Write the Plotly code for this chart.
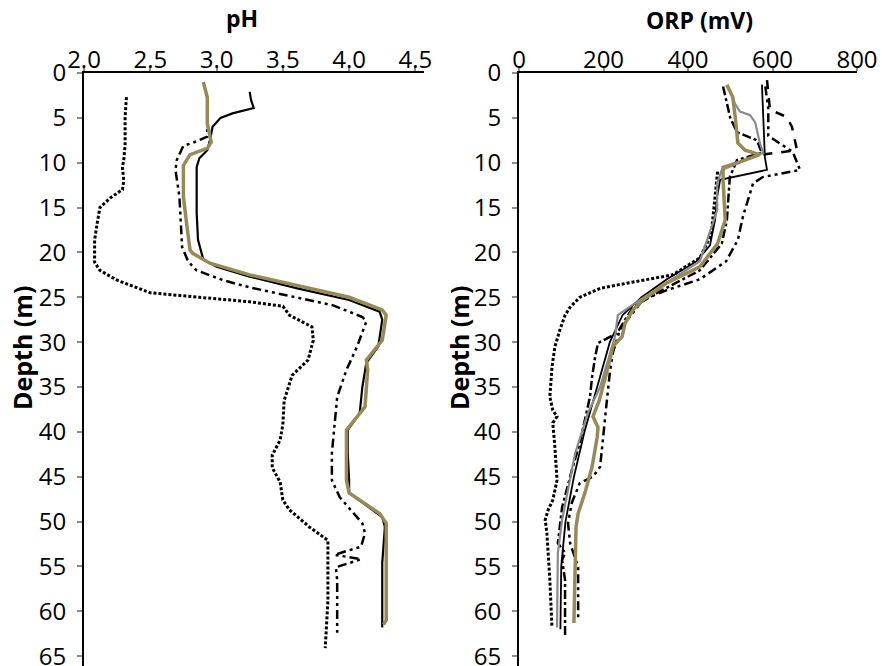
import plotly.graph_objects as go

# ---------------- pH panel data ----------------
ph_dot_depth = [2.7, 5.0, 6.4, 8.0, 9.7, 10.5, 12.0, 13.0, 13.9, 15.0, 16.7, 18.6, 21.1, 22.0, 23.1, 24.5,
                25.0, 25.5, 26.0, 27.0, 28.3, 29.8, 32.0, 33.7, 36.5, 39.2, 40.9, 42.6, 44.0, 45.6,
                47.6, 48.7, 50.6, 52.1, 58.8, 64.1]
ph_dot_val = [2.32, 2.31, 2.31, 2.31, 2.30, 2.29, 2.30, 2.29, 2.20, 2.12, 2.10, 2.08, 2.08, 2.12, 2.25, 2.50,
              2.87, 3.25, 3.50, 3.55, 3.72, 3.73, 3.69, 3.57, 3.51, 3.50, 3.48, 3.42, 3.42, 3.48,
              3.50, 3.55, 3.70, 3.84, 3.84, 3.82]

ph_dd_depth = [4.0, 5.5, 7.1, 7.8, 8.1, 9.7, 10.8, 13.8, 17.0, 19.4, 20.8, 21.6, 22.0, 22.7, 23.1, 23.9,
               24.7, 25.1, 25.9, 27.2, 27.7, 30.5, 33.1, 36.1, 39.0, 42.4, 45.4, 47.3, 50.2, 51.3,
               52.8, 53.7, 54.2, 55.1, 56.5, 62.4]
ph_dd_val = [2.93, 2.93, 2.93, 2.82, 2.75, 2.70, 2.69, 2.72, 2.73, 2.74, 2.78, 2.82, 2.85, 2.98, 3.05, 3.25,
             3.50, 3.63, 3.88, 4.10, 4.13, 4.06, 3.98, 3.91, 3.89, 3.87, 3.87, 3.93, 4.10, 4.12,
             4.09, 3.89, 4.09, 3.90, 3.91, 3.91]

ph_solid_depth = [2.1, 3.0, 3.9, 4.5, 5.0, 6.0, 7.5, 8.6, 9.5, 10.5, 13.8, 15.6, 18.6, 20.8, 21.6, 22.7,
                  24.0, 25.3, 26.6, 27.5, 30.5, 32.3, 35.0, 37.9, 39.8, 42.4, 45.4, 46.8, 49.5, 50.6,
                  54.6, 60.2, 61.8]
ph_solid_val = [3.25, 3.26, 3.28, 3.12, 3.03, 2.97, 2.95, 2.93, 2.87, 2.85, 2.85, 2.85, 2.86, 2.90, 3.00, 3.25,
                3.61, 4.00, 4.23, 4.25, 4.22, 4.13, 4.10, 4.08, 3.99, 3.99, 4.00, 4.00, 4.25, 4.27,
                4.25, 4.25, 4.25]

ph_olive_depth = [1.0, 2.7, 5.6, 7.1, 7.7, 8.4, 9.1, 10.3, 13.8, 17.5, 19.7, 20.1, 21.2, 22.5, 23.8, 25.0,
                  26.4, 27.0, 29.8, 32.0, 33.1, 37.2, 39.8, 42.4, 45.4, 46.8, 49.1, 50.2, 61.0, 61.5]
ph_olive_val = [2.90, 2.93, 2.93, 2.95, 2.96, 2.93, 2.80, 2.75, 2.75, 2.78, 2.80, 2.82, 2.95, 3.25, 3.63, 4.00,
                4.25, 4.28, 4.25, 4.13, 4.14, 4.12, 3.98, 3.98, 3.98, 4.00, 4.23, 4.28, 4.28, 4.26]

# ---------------- ORP panel data ----------------
orp_dot_depth = [11.0, 15.0, 18.0, 20.6, 22.5, 23.3, 24.0, 25.0, 26.1, 27.0, 28.6, 30.5, 32.8, 36.1, 37.6,
                 38.3, 39.0, 41.7, 45.4, 47.6, 48.7, 49.8, 51.3, 56.5, 61.8]
orp_dot_val = [470, 462, 455, 428, 364, 270, 192, 144, 121, 109, 97, 85, 78, 73, 80,
               90, 80, 85, 90, 80, 69, 62, 66, 73, 78]

orp_dd_depth = [1.5, 5.0, 6.6, 7.5, 8.9, 9.7, 11.6, 13.8, 16.4, 19.0, 22.0, 24.5, 26.1, 27.9, 29.0, 30.1,
                31.7, 33.9, 36.1, 41.2, 44.3, 48.4, 52.4, 53.5, 54.3, 56.5, 62.8]
orp_dd_val = [483, 500, 516, 563, 575, 516, 499, 495, 492, 480, 428, 327, 270, 246, 232, 187,
              180, 173, 168, 144, 125, 102, 92, 109, 102, 109, 109]

orp_ddd_depth = [1.5, 4.0, 7.0, 8.8, 10.8, 11.6, 12.3, 16.0, 18.6, 21.0, 23.0, 24.2, 25.3, 27.5, 28.6,
                 31.2, 33.4, 36.5, 43.9, 45.0, 45.7, 47.9, 50.2, 52.4, 55.1, 61.0]
orp_ddd_val = [583, 590, 590, 648, 665, 577, 554, 530, 518, 490, 428, 350, 293, 256, 239,
               222, 215, 208, 192, 175, 144, 125, 116, 121, 140, 140]

orp_dash_depth = [0.8, 4.1, 4.9, 6.0, 8.6, 9.1]
orp_dash_val = [587, 594, 634, 646, 658, 575]

orp_solid_depth = [1.3, 9.4, 10.8, 11.6, 11.9, 13.8, 16.4, 19.2, 21.0, 23.0, 25.0, 27.0, 30.0, 35.0,
                   40.0, 45.0, 50.0, 55.0, 62.0]
orp_solid_val = [575, 582, 587, 506, 476, 469, 464, 452, 420, 350, 290, 245, 215, 185,
                 155, 130, 110, 100, 98]

orp_gray_depth = [1.5, 3.4, 4.3, 4.7, 5.5, 7.8, 8.9, 10.8, 12.3, 15.3, 21.0, 25.3, 27.0, 29.4, 35.0,
                  37.9, 42.4, 45.4, 49.8, 53.5, 61.8]
orp_gray_val = [495, 511, 523, 547, 559, 570, 578, 480, 469, 469, 428, 286, 234, 227, 192,
                163, 133, 121, 102, 92, 90]

orp_olive_depth = [1.3, 2.7, 5.0, 7.8, 8.6, 9.1, 9.9, 10.5, 11.9, 16.4, 19.0, 21.6, 23.4, 25.3, 26.4,
                   27.9, 29.4, 30.5, 32.0, 34.4, 36.5, 38.3, 39.5, 40.6, 43.9, 46.8, 49.1, 50.6, 55.0, 61.3]
orp_olive_val = [492, 506, 512, 518, 535, 570, 523, 483, 483, 488, 470, 428, 350, 293, 270,
                 251, 244, 222, 215, 202, 190, 175, 187, 185, 173, 156, 140, 135, 133, 130]

ph_ticks = [2.0, 2.5, 3.0, 3.5, 4.0, 4.5]
orp_ticks = [0, 200, 400, 600, 800]
depth_ticks = list(range(0, 70, 5))

OLIVE = "#968B57"
GRAY = "#8A8A8A"
DASHDOT = "9px,4px,3px,4px,3px,4px"
DENSEDOT = "3px,2px"

fig = go.Figure()

def add(x, y, xa, ya, color, width, dash):
    fig.add_trace(go.Scatter(x=x, y=y, xaxis=xa, yaxis=ya, mode="lines",
                             line=dict(color=color, width=width, dash=dash),
                             showlegend=False, hoverinfo="skip"))

# pH panel
add(ph_dot_val, ph_dot_depth, "x", "y", "black", 3, DENSEDOT)
add(ph_dd_val, ph_dd_depth, "x", "y", "black", 2.5, DASHDOT)
add(ph_solid_val, ph_solid_depth, "x", "y", "black", 2.2, "solid")
add(ph_olive_val, ph_olive_depth, "x", "y", OLIVE, 3.5, "solid")

# ORP panel
add(orp_dot_val, orp_dot_depth, "x2", "y2", "black", 3, DENSEDOT)
add(orp_solid_val, orp_solid_depth, "x2", "y2", "black", 1.8, "solid")
add(orp_dash_val, orp_dash_depth, "x2", "y2", "black", 2.5, "dash")
add(orp_ddd_val, orp_ddd_depth, "x2", "y2", "black", 2.5, DASHDOT)
add(orp_dd_val, orp_dd_depth, "x2", "y2", "black", 2.5, "dashdot")
add(orp_gray_val, orp_gray_depth, "x2", "y2", GRAY, 2.2, "solid")
add(orp_olive_val, orp_olive_depth, "x2", "y2", OLIVE, 3.5, "solid")

W, H = 882, 666
tickfont = dict(family="Open Sans", size=24, color="black")
ytop = 1 - 73 / H

xcommon = dict(side="top", showgrid=False, zeroline=False, showline=True, linecolor="black",
               linewidth=2, ticks="outside", tickcolor="#8C8C8C", ticklen=5, tickwidth=2,
               tickfont=tickfont, fixedrange=True, automargin=False, ticklabelstandoff=-12,
               ticklabeloverflow="allow")
ycommon = dict(autorange=False, range=[66.1, 0], showgrid=False, zeroline=False, showline=True,
               linecolor="black", linewidth=2, ticks="outside", tickcolor="#8C8C8C", ticklen=5,
               tickwidth=2, tickfont=tickfont, tickvals=depth_ticks, domain=[0, ytop],
               ticklabelstandoff=6, automargin=False, fixedrange=True, ticklabeloverflow="allow")

fig.update_layout(
    width=W, height=H, autosize=False,
    margin=dict(l=0, r=0, t=0, b=0, pad=0, autoexpand=False),
    paper_bgcolor="white", plot_bgcolor="white",
    xaxis=dict(xcommon, range=[2.0, 4.565], domain=[84 / W, 424 / W], anchor="y",
               tickvals=ph_ticks, ticktext=["%.1f" % v for v in ph_ticks]),
    yaxis=dict(ycommon, anchor="x"),
    xaxis2=dict(xcommon, range=[0, 800], domain=[519 / W, 857 / W], anchor="y2",
                tickvals=orp_ticks),
    yaxis2=dict(ycommon, anchor="x2"),
)

topfont = dict(family="Open Sans", size=23, color="black")
sidefont = dict(family="Open Sans", size=25, color="black")
fig.add_annotation(text="<b>pH</b>", x=242 / W, y=1 - 18 / H, xref="paper", yref="paper",
                   showarrow=False, font=topfont, xanchor="center", yanchor="middle")
fig.add_annotation(text="<b>ORP (mV)</b>", x=699 / W, y=1 - 20 / H, xref="paper", yref="paper",
                   showarrow=False, font=topfont, xanchor="center", yanchor="middle")
fig.add_annotation(text="<b>Depth (m)</b>", x=22 / W, y=1 - 348 / H, xref="paper", yref="paper",
                   showarrow=False, font=sidefont, textangle=-90, xanchor="center", yanchor="middle")
fig.add_annotation(text="<b>Depth (m)</b>", x=459 / W, y=1 - 348 / H, xref="paper", yref="paper",
                   showarrow=False, font=sidefont, textangle=-90, xanchor="center", yanchor="middle")

fig.write_html("out.html")
